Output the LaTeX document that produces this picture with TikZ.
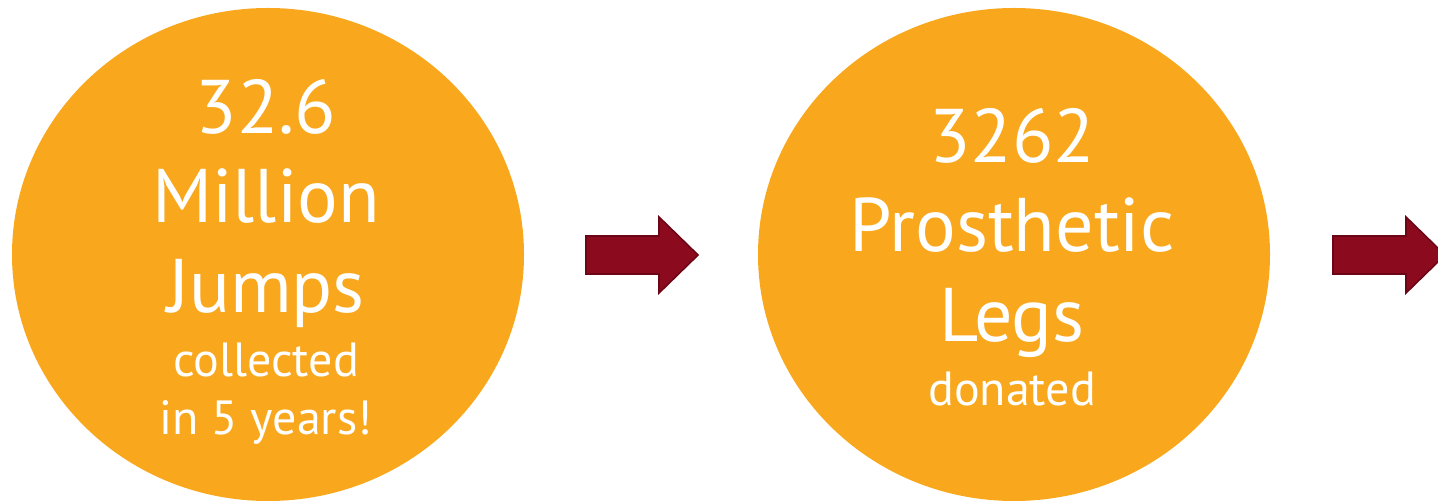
\documentclass[tikz,border=0pt]{standalone}
\usepackage{fontspec}
\setmainfont{PT Sans}
\usetikzlibrary{shapes.geometric}
\definecolor{disc}{RGB}{249,168,30}
\definecolor{arrowfill}{RGB}{139,10,30}
\definecolor{arrowline}{RGB}{108,6,22}
\tikzset{
  disk/.style={ellipse, fill=disc, draw=none, minimum width=512pt, minimum height=493pt, inner sep=0pt},
  big/.style={text=white, anchor=base, inner sep=0pt, font=\fontsize{76}{76}\selectfont},
  small/.style={text=white, anchor=base, inner sep=0pt, font=\fontsize{48}{48}\selectfont},
  blockarrow/.style={fill=arrowfill, draw=arrowline, line width=1.6pt, line join=miter}
}
\begin{document}
\begin{tikzpicture}[x=1pt,y=-1pt]
\useasboundingbox (0,0) rectangle (1438,502);
\clip (0,0) rectangle (1438,502);
% circles
\node[disk] (c1) at (268,254.5) {};
\node[disk] (c2) at (1014,254.5) {};
% texts circle 1
\node[big] (t11) at (266,134) {32.6};
\node[big] (t12) at (266,223) {Million};
\node[big] (t13) at (266,313) {Jumps};
\node[small] (t14) at (266,377) {collected};
\node[small] (t15) at (266,435) {in 5 years!};
% texts circle 2
\node[big] (t21) at (1012,163) {3262};
\node[big] (t22) at (1012,252) {Prosthetic};
\node[big] (t23) at (1012,342) {Legs};
\node[small] (t24) at (1012,406) {donated};
% block arrows
\draw[blockarrow] (586,236) -- (659,236) -- (659,217) -- (698,255) -- (659,293) -- (659,274) -- (586,274) -- cycle;
\draw[blockarrow] (1333,236) -- (1406,236) -- (1406,217) -- (1445,255) -- (1406,293) -- (1406,274) -- (1333,274) -- cycle;
\end{tikzpicture}
\end{document}
